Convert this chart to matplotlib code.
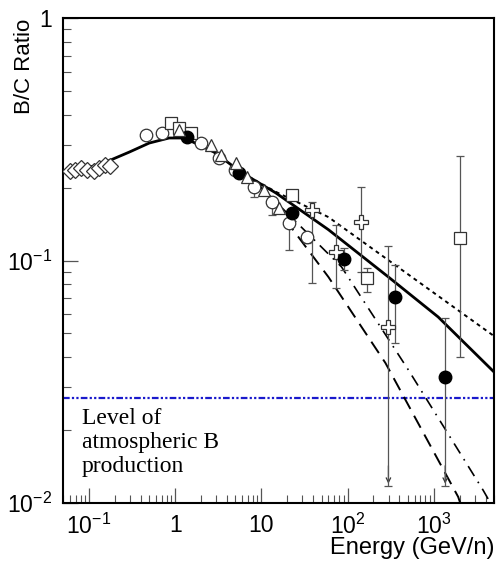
import numpy as np
import matplotlib
matplotlib.use("Agg")
import matplotlib.pyplot as plt

plt.rcParams['font.family'] = ['Liberation Sans', 'DejaVu Sans']
plt.rcParams['mathtext.fontset'] = 'custom'
plt.rcParams['mathtext.rm'] = 'Liberation Sans'
plt.rcParams['mathtext.it'] = 'Liberation Sans'

# ---- model curves ----
solid_E = [0.05, 0.132, 0.294, 0.50, 0.85, 1.27, 1.89, 2.82, 5.95, 14.7, 60, 298, 1125, 5000]
solid_R = [0.23, 0.248, 0.280, 0.305, 0.320, 0.320, 0.30, 0.28, 0.23, 0.19, 0.134, 0.0855, 0.0585, 0.0347]
dotted_E = [5.95, 14.7, 60, 5000]
dotted_R = [0.23, 0.192, 0.151, 0.0488]
dashed_E = [5.95, 9.86, 60, 275, 1920, 2150]
dashed_R = [0.23, 0.201, 0.0855, 0.0378, 0.0106, 0.0094]
dashdot_E = [5.95, 9.86, 85.3, 507, 3735, 4700]
dashdot_R = [0.23, 0.201, 0.094, 0.0354, 0.0113, 0.0098]
atm_level = 0.027

# ---- data sets ----
diam_E = [0.0595, 0.0698, 0.0819, 0.096, 0.113, 0.132, 0.155, 0.177]
diam_R = [0.234, 0.236, 0.241, 0.236, 0.234, 0.241, 0.248, 0.245]

circ_E = [0.462, 0.707, 2.0, 3.22, 4.94, 8.19, 13.2, 20.8, 33.6]
circ_R = [0.330, 0.336, 0.305, 0.265, 0.236, 0.201, 0.174, 0.143, 0.125]
circ_lo = [0.330, 0.336, 0.305, 0.265, 0.236, 0.183, 0.154, 0.110, 0.118]
circ_hi = [0.330, 0.336, 0.305, 0.265, 0.236, 0.201, 0.174, 0.143, 0.125]

tri_E = [1.11, 2.61, 3.4, 5.07, 6.8, 10.7, 15.9]
tri_R = [0.345, 0.30, 0.272, 0.252, 0.221, 0.195, 0.164]

sq_E = [0.899, 1.11, 1.53, 22.5, 166, 2025]
sq_R = [0.369, 0.352, 0.336, 0.186, 0.0847, 0.124]
sq_lo = [0.369, 0.352, 0.336, 0.186, 0.0742, 0.040]
sq_hi = [0.369, 0.352, 0.336, 0.186, 0.0931, 0.270]

fill_E = [1.376, 5.49, 22.5, 89.9, 359, 1358]
fill_R = [0.323, 0.230, 0.157, 0.1014, 0.0707, 0.0331]
fill_lo = [0.323, 0.230, 0.157, 0.0914, 0.0457, 0.0117]
fill_hi = [0.323, 0.230, 0.157, 0.1127, 0.0958, 0.058]
fill_arrow = [False, False, False, False, False, True]

cross_E = [38.4, 72.6, 145, 298]
cross_R = [0.162, 0.108, 0.144, 0.0532]
cross_lo = [0.0807, 0.0770, 0.0897, 0.0117]
cross_hi = [0.174, 0.140, 0.201, 0.1148]
cross_arrow = [False, False, False, True]

fig = plt.figure(figsize=(4.96, 5.65), dpi=100)
ax = fig.add_axes([63/496, 1-503/565, (494-63)/496, (503-18)/565])
ax.set_xscale('log')
ax.set_yscale('log')
ax.set_xlim(0.05, 5000)
ax.set_ylim(0.01, 1)

# curves
ax.plot(solid_E, solid_R, color='black', lw=2.0, zorder=3)
ax.plot(dotted_E, dotted_R, color='black', lw=1.4, ls=(0, (2, 2)), zorder=3)
ax.plot(dashed_E, dashed_R, color='black', lw=1.4, ls=(0, (7, 4)), zorder=3)
ax.plot(dashdot_E, dashdot_R, color='black', lw=1.2, ls=(0, (7, 4, 1, 4)), zorder=3)
ax.axhline(atm_level, color='#1a1acc', lw=1.6, ls=(0, (3, 1, 1, 1, 1, 1)), zorder=2)


def errs(vals, lo, hi):
    v = np.array(vals)
    return [v - np.array(lo), np.array(hi) - v]

ebkw = dict(ecolor='#555555', elinewidth=0.9, capsize=3, capthick=0.9, ls='none', zorder=4)
ax.plot(diam_E, diam_R, 'D', ms=8, mfc='white', mec='#333333', mew=0.9, zorder=5)
ax.errorbar(circ_E, circ_R, yerr=errs(circ_R, circ_lo, circ_hi), fmt='o', ms=9, mfc='white',
            mec='#333333', mew=0.9, **ebkw)
ax.plot(tri_E, tri_R, '^', ms=8, mfc='white', mec='#333333', mew=0.9, zorder=5)
ax.errorbar(sq_E, sq_R, yerr=errs(sq_R, sq_lo, sq_hi), fmt='s', ms=9, mfc='white',
            mec='#333333', mew=0.9, **ebkw)
ax.errorbar(cross_E, cross_R, yerr=errs(cross_R, cross_lo, cross_hi), fmt='P', ms=10, mfc='white',
            mec='#333333', mew=0.9, **ebkw)
ax.errorbar(fill_E, fill_R, yerr=errs(fill_R, fill_lo, fill_hi), fmt='o', ms=9, mfc='black',
            mec='black', **ebkw)

for E, lo, a in list(zip(cross_E, cross_lo, cross_arrow)) + list(zip(fill_E, fill_lo, fill_arrow)):
    if a:
        ax.annotate('', xy=(E, lo), xytext=(E, lo * 1.25),
                    arrowprops=dict(arrowstyle='->', color='#333333', lw=0.9,
                                    mutation_scale=8))

# axes styling
for s in ax.spines.values():
    s.set_linewidth(1.5)
ax.tick_params(which='both', direction='in', top=False, right=False, color='#555555')
ax.tick_params(which='major', length=11, width=0.9, labelsize=16.5, pad=8)
ax.tick_params(which='minor', length=6, width=0.8)
ax.set_xticks([0.1, 1, 10, 100, 1000])
ax.set_xticklabels(['$10^{-1}$', '1', '10', '$10^{2}$', '$10^{3}$'])
ax.set_yticks([0.01, 0.1, 1])
ax.set_yticklabels(['$10^{-2}$', '$10^{-1}$', '1'])

fig.text(25/496, 1-19/565, 'B/C Ratio', rotation=90, ha='center', va='top', fontsize=16)
fig.text(495/496, 1-548/565, 'Energy (GeV/n)', ha='right', va='center', fontsize=17)
ax.text(0.044, 0.196, 'Level of\natmospheric B\nproduction', transform=ax.transAxes,
        ha='left', va='top', fontsize=17, family='Liberation Serif', linespacing=1.2)

fig.savefig('out.png', dpi=100)
